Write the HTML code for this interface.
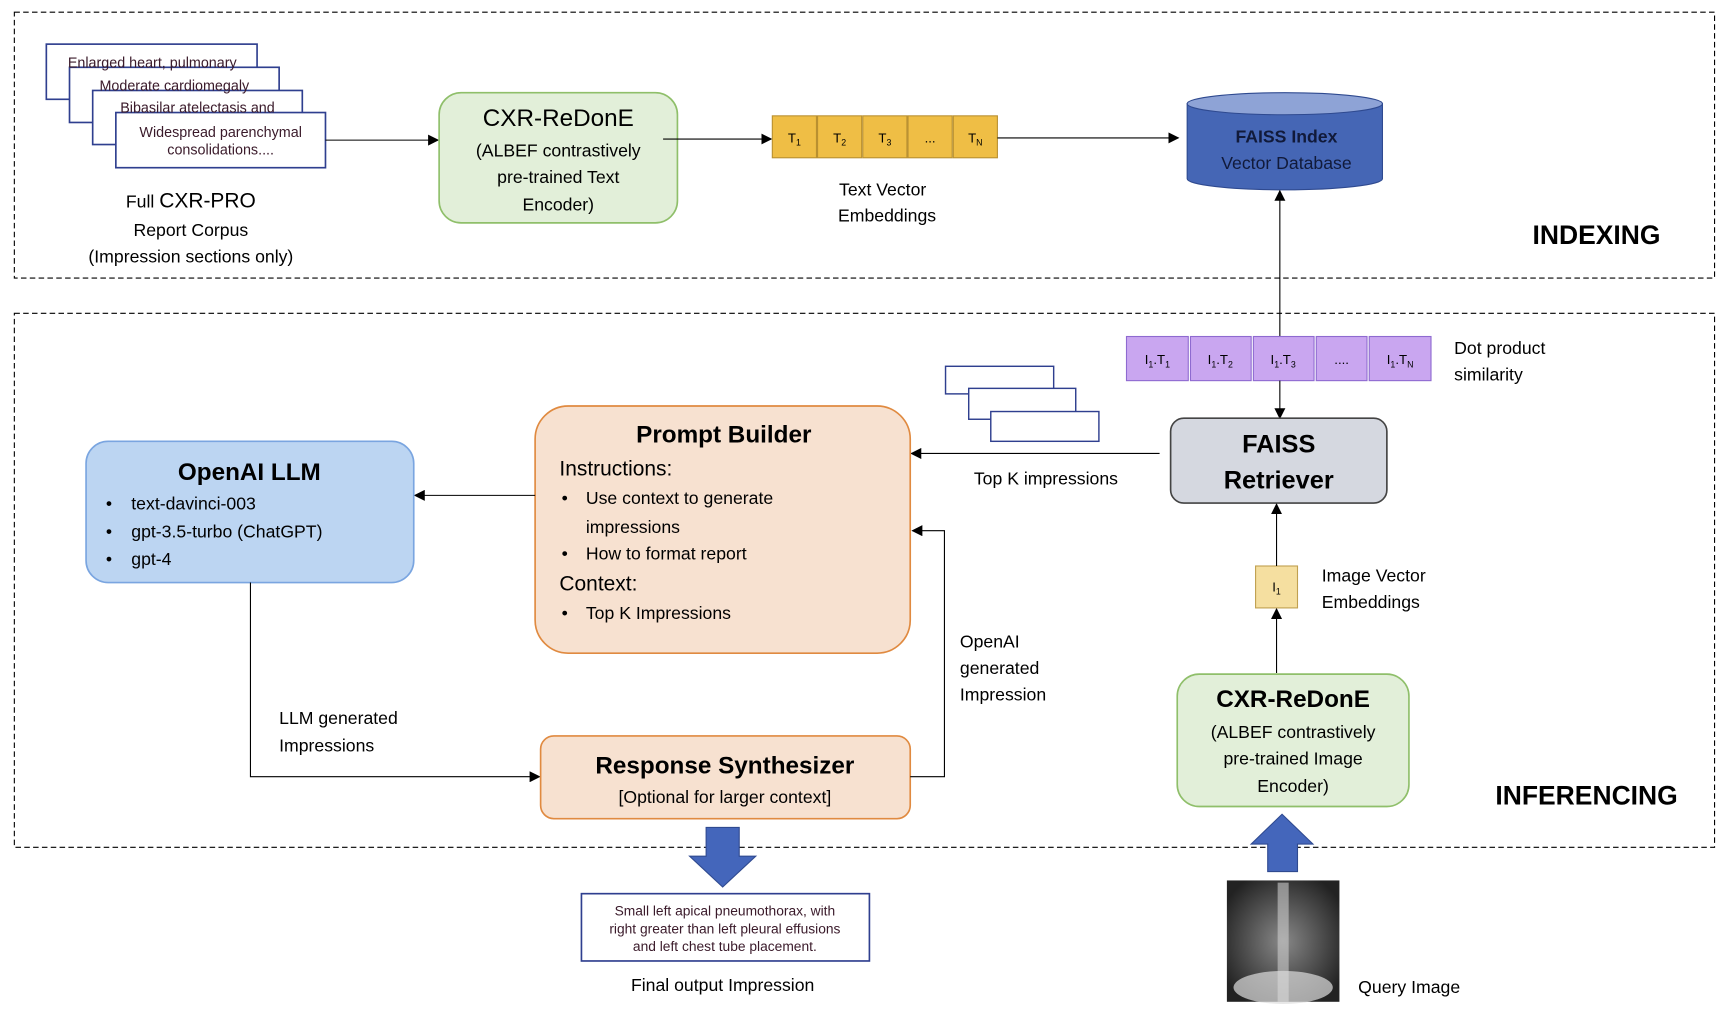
<!DOCTYPE html>
<html><head><meta charset="utf-8"><style>html,body{margin:0;padding:0;background:#fff}svg{display:block}</style></head><body>
<svg width="1730" height="1020" viewBox="0 0 1568 924.5" preserveAspectRatio="none" xmlns="http://www.w3.org/2000/svg" font-family="Liberation Sans, sans-serif">
<defs>
<marker id="a" markerWidth="10" markerHeight="10" refX="9" refY="5" orient="auto" markerUnits="userSpaceOnUse"><path d="M0,0 L10,5 L0,10 z" fill="#000"/></marker>
<radialGradient id="xr" cx="0.5" cy="0.5" r="0.6"><stop offset="0" stop-color="#888"/><stop offset="1" stop-color="#222"/></radialGradient>
</defs>
<rect x="13" y="11" width="1541" height="241" fill="none" stroke="#000" stroke-dasharray="5,3"/>
<rect x="13" y="284" width="1541" height="484" fill="none" stroke="#000" stroke-dasharray="5,3"/>
<g fill="#fff" stroke="#2f3f8f" stroke-width="1.5">
<rect x="42" y="40" width="191" height="50"/>
<rect x="63" y="61" width="190" height="50"/>
<rect x="84" y="82" width="190" height="49"/>
<rect x="105" y="102" width="190" height="50"/>
</g>
<g fill="#3a1a2a" font-size="13" text-anchor="middle">
<text x="138" y="61">Enlarged heart, pulmonary</text>
<text x="158" y="82">Moderate cardiomegaly</text>
<text x="179" y="102">Bibasilar atelectasis and</text>
<text x="200" y="124">Widespread parenchymal</text>
<text x="200" y="140">consolidations....</text>
</g>
<g fill="#fff"><rect x="43" y="66" width="19" height="23"/><rect x="64" y="86" width="19" height="24"/><rect x="85" y="107" width="19" height="23"/></g>
<g font-size="16" text-anchor="middle" fill="#000">
<text x="173" y="188"><tspan>Full </tspan><tspan font-size="19">CXR-PRO</tspan></text>
<text x="173" y="214">Report Corpus</text>
<text x="173" y="238">(Impression sections only)</text>
</g>
<line x1="295" y1="127" x2="397" y2="127" stroke="#000" marker-end="url(#a)"/>
<rect x="398" y="84" width="216" height="118" rx="20" fill="#e2efd9" stroke="#8fbf6a" stroke-width="1.5"/>
<g text-anchor="middle" fill="#000">
<text x="506" y="114" font-size="22">CXR-ReDonE</text>
<text x="506" y="142" font-size="16">(ALBEF contrastively</text>
<text x="506" y="166" font-size="16">pre-trained Text</text>
<text x="506" y="191" font-size="16">Encoder)</text>
</g>
<line x1="601" y1="126" x2="699" y2="126" stroke="#000" marker-end="url(#a)"/>
<g fill="#efbe45" stroke="#b99030">
<rect x="700" y="105" width="40" height="38"/><rect x="741" y="105" width="40" height="38"/><rect x="782" y="105" width="40" height="38"/><rect x="823" y="105" width="40" height="38"/><rect x="864" y="105" width="40" height="38"/>
</g>
<g font-size="12" text-anchor="middle" fill="#000">
<text x="720" y="129">T<tspan font-size="8" dy="3">1</tspan></text>
<text x="761" y="129">T<tspan font-size="8" dy="3">2</tspan></text>
<text x="802" y="129">T<tspan font-size="8" dy="3">3</tspan></text>
<text x="843" y="129">...</text>
<text x="884" y="129">T<tspan font-size="8" dy="3">N</tspan></text>
</g>
<line x1="904" y1="125" x2="1068" y2="125" stroke="#000" marker-end="url(#a)"/>
<g font-size="16" text-anchor="middle"><text x="800" y="177">Text Vector</text><text x="804" y="201">Embeddings</text></g>
<path d="M1076,94 L1076,162 A88,10 0 0 0 1253,162 L1253,94 Z" fill="#4566b5" stroke="#2f4a90"/>
<ellipse cx="1164.5" cy="94" rx="88.5" ry="10" fill="#8ea3d6" stroke="#2f4a90"/>
<g text-anchor="middle" fill="#111a3a"><text x="1166" y="129" font-size="16" font-weight="bold">FAISS Index</text><text x="1166" y="153" font-size="16">Vector Database</text></g>
<text x="1447" y="221" font-size="24" font-weight="bold" text-anchor="middle">INDEXING</text>
<line x1="1160" y1="305" x2="1160" y2="173" stroke="#000" marker-end="url(#a)"/>
<g fill="#c9a6f0" stroke="#8e6ad0">
<rect x="1021" y="305" width="56" height="40"/><rect x="1079" y="305" width="55" height="40"/><rect x="1136" y="305" width="55" height="40"/><rect x="1193" y="305" width="46" height="40"/><rect x="1241" y="305" width="56" height="40"/>
</g>
<g font-size="12" text-anchor="middle">
<text x="1049" y="330">I<tspan font-size="8" dy="3">1</tspan><tspan dy="-3">.T</tspan><tspan font-size="8" dy="3">1</tspan></text>
<text x="1106" y="330">I<tspan font-size="8" dy="3">1</tspan><tspan dy="-3">.T</tspan><tspan font-size="8" dy="3">2</tspan></text>
<text x="1163" y="330">I<tspan font-size="8" dy="3">1</tspan><tspan dy="-3">.T</tspan><tspan font-size="8" dy="3">3</tspan></text>
<text x="1216" y="330">....</text>
<text x="1269" y="330">I<tspan font-size="8" dy="3">1</tspan><tspan dy="-3">.T</tspan><tspan font-size="8" dy="3">N</tspan></text>
</g>
<g font-size="16"><text x="1318" y="321">Dot product</text><text x="1318" y="345">similarity</text></g>
<line x1="1160" y1="345" x2="1160" y2="379" stroke="#000" marker-end="url(#a)"/>
<rect x="1061" y="379" width="196" height="77" rx="12" fill="#d5d8e0" stroke="#444" stroke-width="1.5"/>
<g font-size="23" font-weight="bold" text-anchor="middle"><text x="1159" y="410">FAISS</text><text x="1159" y="443">Retriever</text></g>
<line x1="1051" y1="411" x2="826" y2="411" stroke="#000" marker-end="url(#a)"/>
<text x="948" y="439" font-size="16" text-anchor="middle">Top K impressions</text>
<g fill="#fff" stroke="#2f3f8f" stroke-width="1.3">
<rect x="857" y="332" width="98" height="25"/><rect x="878" y="352" width="97" height="28"/><rect x="898" y="373" width="98" height="27"/>
</g>
<rect x="485" y="368" width="340" height="224" rx="30" fill="#f7e1d0" stroke="#e08a40" stroke-width="1.5"/>
<text x="656" y="401" font-size="22" font-weight="bold" text-anchor="middle">Prompt Builder</text>
<g font-size="16">
<text x="507" y="431" font-size="19">Instructions:</text>
<text x="509" y="457">•</text><text x="531" y="457">Use context to generate</text>
<text x="531" y="483">impressions</text>
<text x="509" y="507">•</text><text x="531" y="507">How to format report</text>
<text x="507" y="535" font-size="19">Context:</text>
<text x="509" y="561">•</text><text x="531" y="561">Top K Impressions</text>
</g>
<line x1="485" y1="449" x2="376" y2="449" stroke="#000" marker-end="url(#a)"/>
<rect x="78" y="400" width="297" height="128" rx="20" fill="#bcd5f2" stroke="#7aa5e0" stroke-width="1.5"/>
<text x="226" y="435" font-size="22" font-weight="bold" text-anchor="middle">OpenAI LLM</text>
<g font-size="16">
<text x="96" y="462">•</text><text x="119" y="462">text-davinci-003</text>
<text x="96" y="487">•</text><text x="119" y="487">gpt-3.5-turbo (ChatGPT)</text>
<text x="96" y="512">•</text><text x="119" y="512">gpt-4</text>
</g>
<polyline points="227,528 227,704 489,704" fill="none" stroke="#000" marker-end="url(#a)"/>
<g font-size="16"><text x="253" y="656">LLM generated</text><text x="253" y="681">Impressions</text></g>
<rect x="490" y="667" width="335" height="75" rx="12" fill="#f7e1d0" stroke="#e08a40" stroke-width="1.5"/>
<text x="657" y="701" font-size="22" font-weight="bold" text-anchor="middle">Response Synthesizer</text>
<text x="657" y="728" font-size="16" text-anchor="middle">[Optional for larger context]</text>
<polyline points="825,704 856,704 856,481 827,481" fill="none" stroke="#000" marker-end="url(#a)"/>
<g font-size="16"><text x="870" y="587">OpenAI</text><text x="870" y="611">generated</text><text x="870" y="635">Impression</text></g>
<path d="M640,750 L670,750 L670,776 L685,776 L655,804 L625,776 L640,776 Z" fill="#4466bb" stroke="#2f4a90"/>
<rect x="527" y="810" width="261" height="61" fill="#fff" stroke="#2f3f8f" stroke-width="1.5"/>
<g font-size="12.5" text-anchor="middle" fill="#3a1a2a"><text x="657" y="830">Small left apical pneumothorax, with</text><text x="657" y="846">right greater than left pleural effusions</text><text x="657" y="862">and left chest tube placement.</text></g>
<text x="655" y="898" font-size="16" text-anchor="middle">Final output Impression</text>
<rect x="1138" y="513" width="38" height="38" fill="#f5dfa0" stroke="#c0a050"/>
<text x="1157" y="536" font-size="12" text-anchor="middle">I<tspan font-size="8" dy="3">1</tspan></text>
<line x1="1157" y1="513" x2="1157" y2="457" stroke="#000" marker-end="url(#a)"/>
<line x1="1157" y1="610" x2="1157" y2="552" stroke="#000" marker-end="url(#a)"/>
<g font-size="16"><text x="1198" y="527">Image Vector</text><text x="1198" y="551">Embeddings</text></g>
<rect x="1067" y="611" width="210" height="120" rx="20" fill="#e2efd9" stroke="#8fbf6a" stroke-width="1.5"/>
<g text-anchor="middle"><text x="1172" y="641" font-size="22" font-weight="bold">CXR-ReDonE</text>
<text x="1172" y="669" font-size="16">(ALBEF contrastively</text><text x="1172" y="693" font-size="16">pre-trained Image</text><text x="1172" y="718" font-size="16">Encoder)</text></g>
<text x="1438" y="729" font-size="24" font-weight="bold" text-anchor="middle">INFERENCING</text>
<path d="M1162,738 L1190,765 L1176,765 L1176,790 L1149,790 L1149,765 L1134,765 Z" fill="#4466bb" stroke="#2f4a90"/>
<rect x="1112" y="798" width="102" height="110" fill="url(#xr)"/>
<rect x="1158" y="800" width="10" height="108" fill="#ccc" opacity="0.6"/>
<ellipse cx="1163" cy="895" rx="45" ry="15" fill="#ddd" opacity="0.7"/>
<text x="1231" y="900" font-size="16">Query Image</text>
</svg>
</body></html>
